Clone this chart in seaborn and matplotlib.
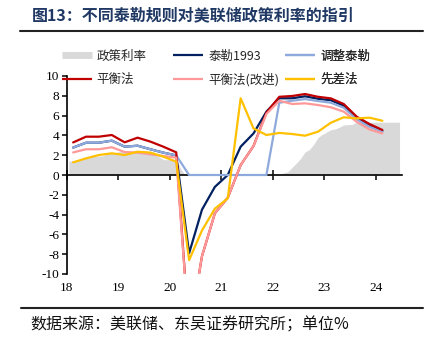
import numpy as np
import pandas as pd
import matplotlib
matplotlib.use("Agg")
import matplotlib.pyplot as plt
from matplotlib.lines import Line2D
import seaborn as sns

# ---------------- data ----------------
quarters = ["2018Q1", "2018Q2", "2018Q3", "2018Q4",
            "2019Q1", "2019Q2", "2019Q3", "2019Q4",
            "2020Q1", "2020Q2", "2020Q3", "2020Q4",
            "2021Q1", "2021Q2", "2021Q3", "2021Q4",
            "2022Q1", "2022Q2", "2022Q3", "2022Q4",
            "2023Q1", "2023Q2", "2023Q3", "2023Q4",
            "2024Q1"]

taylor1993 = [2.77, 3.26, 3.26, 3.47, 2.86, 2.96, 2.60, 2.26,
              1.98, -7.9, -3.5, -1.2, 0.0, 2.86, 4.2, 6.4,
              7.75, 7.75, 7.95, 7.70, 7.55, 7.00, 5.80, 5.00, 4.45]
adj_taylor = [2.77, 3.26, 3.26, 3.47, 2.86, 2.96, 2.60, 2.26,
              1.98, 0.0, 0.0, 0.0, 0.0, 0.0, 0.0, 0.0,
              7.30, 7.50, 7.67, 7.47, 7.30, 6.80, 5.63, 4.88, 4.38]
balanced = [3.29, 3.87, 3.87, 4.04, 3.30, 3.77, 3.37, 2.86,
            2.29, -16.0, -8.2, -3.87, -2.3, 1.0, 2.93, 6.3,
            7.90, 7.98, 8.18, 7.90, 7.74, 7.17, 5.90, 5.15, 4.55]
balanced_adj = [2.28, 2.60, 2.60, 2.80, 2.32, 2.26, 2.09, 1.92,
                1.75, -16.0, -8.2, -3.87, -2.3, 1.0, 2.93, 6.16,
                7.50, 7.17, 7.24, 7.07, 6.84, 6.40, 5.38, 4.60, 4.20]
first_diff = [1.28, 1.68, 2.02, 2.19, 2.02, 2.35, 2.26, 1.85,
              1.35, -8.6, -5.6, -3.4, -2.36, 7.75, 4.7, 4.04,
              4.25, 4.14, 3.97, 4.37, 5.28, 5.83, 5.72, 5.79, 5.48]

months = pd.period_range("2018-01", "2024-06", freq="M")
policy_rate = [1.41, 1.42, 1.51, 1.69, 1.70, 1.82, 1.91, 1.91, 1.95, 2.19, 2.20, 2.27,
               2.40, 2.40, 2.41, 2.42, 2.39, 2.38, 2.40, 2.13, 2.04, 1.83, 1.55, 1.55,
               1.55, 1.58, 0.65, 0.05, 0.05, 0.08, 0.09, 0.10, 0.09, 0.09, 0.09, 0.09,
               0.09, 0.08, 0.07, 0.07, 0.06, 0.08, 0.10, 0.09, 0.08, 0.08, 0.08, 0.08,
               0.08, 0.08, 0.20, 0.33, 0.77, 1.21, 1.68, 2.33, 2.56, 3.08, 3.78, 4.10,
               4.33, 4.57, 4.65, 4.83, 5.06, 5.08, 5.12, 5.33, 5.33, 5.33, 5.33, 5.33,
               5.33, 5.33, 5.33, 5.33, 5.33, 5.33]

year_ticks = [2018, 2019, 2020, 2021, 2022, 2023, 2024]
year_labels = ["18", "19", "20", "21", "22", "23", "24"]

series_names = ["泰勒1993", "调整泰勒", "平衡法", "平衡法(改进)", "先差法"]
series_values = [taylor1993, adj_taylor, balanced, balanced_adj, first_diff]
colors = {"泰勒1993": "#002060", "调整泰勒": "#8EA9DB", "平衡法": "#C00000",
          "平衡法(改进)": "#FF9999", "先差法": "#FFC000"}
policy_name = "政策利率"
policy_color = "#D9D9D9"

# quarter mid-points as decimal years
q_x = [int(q[:4]) + (int(q[-1]) - 0.5) / 4 for q in quarters]
m_x = [p.year + (p.month - 0.5) / 12 for p in months]

rows = []
for name, vals in zip(series_names, series_values):
    for x, v in zip(q_x, vals):
        rows.append({"x": x, "value": v, "series": name})
df = pd.DataFrame(rows)

# ---------------- plot ----------------
sns.set_theme(style="white")
plt.rcParams["font.family"] = ["Noto Sans CJK SC", "DejaVu Sans"]
plt.rcParams["axes.unicode_minus"] = False

W, H = 438, 342
fig = plt.figure(figsize=(W / 100, H / 100), dpi=100)
ax = fig.add_axes([66.7 / W, 1 - 274 / H, (401.7 - 66.7) / W, (274 - 76) / H])

ax.fill_between(m_x, 0, policy_rate, color=policy_color, lw=0, zorder=1)
sns.lineplot(data=df, x="x", y="value", hue="series", hue_order=series_names,
             palette=colors, linewidth=1.6, legend=False, sort=False,
             estimator=None, ax=ax, zorder=3)

ax.set_xlim(2018, 2024.5)
ax.set_ylim(-10, 10)
ax.set_xlabel("")
ax.set_ylabel("")
ax.set_yticks(range(-10, 11, 2))
ax.set_xticks(year_ticks)

for s in ["top", "right"]:
    ax.spines[s].set_visible(False)
ax.spines["bottom"].set_position(("data", 0))
for s in ["left", "bottom"]:
    ax.spines[s].set_color("black")
    ax.spines[s].set_linewidth(1.2)

ax.tick_params(axis="x", direction="inout", length=7, width=1.1, color="black",
               labelbottom=False, bottom=True)
ax.tick_params(axis="y", direction="out", length=3.5, width=1.1, color="black",
               left=True, labelsize=9.5, labelcolor="black", pad=2)
for lab in ax.get_yticklabels():
    lab.set_fontfamily("Liberation Serif")

sec = ax.secondary_xaxis("bottom")
sec.set_xticks(year_ticks, labels=year_labels)
sec.tick_params(length=0, pad=6, labelsize=9.5, labelcolor="black")
sec.spines["bottom"].set_visible(False)
for lab in sec.get_xticklabels():
    lab.set_fontfamily("Liberation Serif")

# legends (three columns, two rows)
def line_handle(c, lw=1.6):
    return Line2D([], [], color=c, lw=lw, solid_capstyle="butt")

cols = [
    ([Line2D([], [], color=policy_color, lw=5, solid_capstyle="butt"),
      line_handle(colors["平衡法"])], [policy_name, "平衡法"], 61.7),
    ([line_handle(colors["泰勒1993"]), line_handle(colors["平衡法(改进)"])],
     ["泰勒1993", "平衡法(改进)"], 173.3),
    ([line_handle(colors["调整泰勒"]), line_handle(colors["先差法"])],
     ["调整泰勒", "先差法"], 285.0),
]
for handles, labels, xpx in cols:
    leg = ax.legend(handles, labels, loc="upper left",
                    bbox_to_anchor=(xpx / W, 1 - 49.5 / H),
                    bbox_transform=fig.transFigure, frameon=False, fontsize=9,
                    handlelength=2.4, handletextpad=0.4, labelspacing=0.85,
                    borderpad=0, borderaxespad=0)
    leg.set_zorder(5)
    ax.add_artist(leg)

# title, rules and source
fig.text(31.7 / W, 1 - 15 / H, "图13：不同泰勒规则对美联储政策利率的指引",
         fontsize=11.5, fontweight="bold", color="#1F3864", va="center", ha="left")
fig.add_artist(Line2D([20 / W, 422.7 / W], [1 - 31 / H, 1 - 31 / H],
                      transform=fig.transFigure, color="#222222", lw=1.5))
fig.add_artist(Line2D([20.7 / W, 422.7 / W], [1 - 307.7 / H, 1 - 307.7 / H],
                      transform=fig.transFigure, color="#222222", lw=1.5))
fig.text(30 / W, 1 - 325 / H, "数据来源：美联储、东吴证券研究所；单位%",
         fontsize=11.5, color="#111111", va="center", ha="left")

fig.savefig("out.png", dpi=100)
